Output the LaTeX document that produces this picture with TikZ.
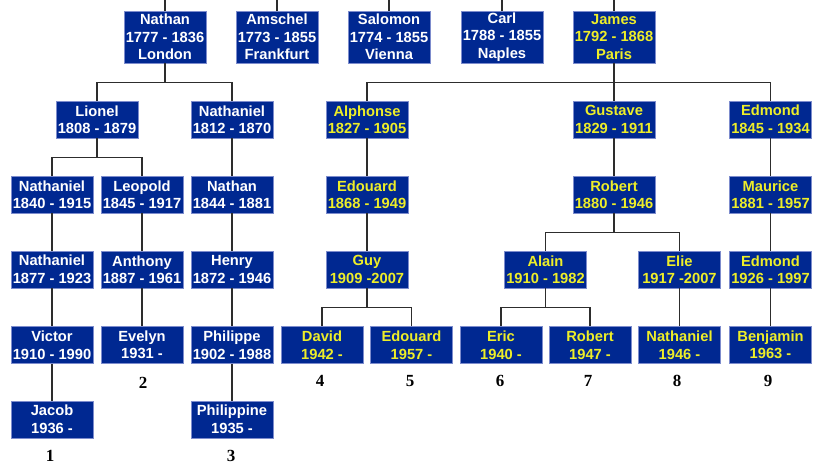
\documentclass[tikz,border=0pt]{standalone}
\usepackage{fontspec}
\setmainfont{Liberation Sans}
\newfontfamily\numserif{Liberation Serif}
\definecolor{boxblue}{RGB}{0,40,145}
\definecolor{boxrim}{RGB}{125,140,205}
\definecolor{txtyellow}{RGB}{238,238,40}
\definecolor{linegrey}{RGB}{45,45,45}
\begin{document}
\begin{tikzpicture}[x=1pt,y=-1pt,
  person/.style={rectangle,fill=boxblue,draw=boxrim,line width=0.7pt,
    minimum width=82pt,inner sep=0pt,align=center,text=white,
    font=\bfseries\fontsize{14.7}{17.5}\selectfont},
  tall/.style={person,minimum height=52pt},
  short/.style={person,minimum height=37pt},
  yel/.style={text=txtyellow},
  num/.style={font=\numserif\bfseries\fontsize{17}{17}\selectfont,text=black,inner sep=0pt},
  link/.style={draw=linegrey,line width=1.2pt},
  fork/.style={link}]
\useasboundingbox (0,0) rectangle (817,466);
% row 1
\node[tall] (Nathan) at (165,37) {Nathan\\1777 - 1836\\London};
\node[tall] (Amschel) at (277,37) {Amschel\\1773 - 1855\\Frankfurt};
\node[tall] (Salomon) at (389,37) {Salomon\\1774 - 1855\\Vienna};
\node[tall] (Carl) at (502,37) {Carl\\1788 - 1855\\Naples};
\node[tall,yel] (James) at (614,37) {James\\1792 - 1868\\Paris};
% row 2
\node[short] (Lionel) at (97,119.5) {Lionel\\1808 - 1879};
\node[short] (NathanielB) at (232,119.5) {Nathaniel\\1812 - 1870};
\node[short,yel] (Alphonse) at (367,119.5) {Alphonse\\1827 - 1905};
\node[short,yel] (Gustave) at (614,119.5) {Gustave\\1829 - 1911};
\node[short,yel] (EdmondA) at (770.5,119.5) {Edmond\\1845 - 1934};
% row 3
\node[short] (NathanielC) at (52,194.5) {Nathaniel\\1840 - 1915};
\node[short] (Leopold) at (142,194.5) {Leopold\\1845 - 1917};
\node[short] (NathanC) at (232,194.5) {Nathan\\1844 - 1881};
\node[short,yel] (EdouardC) at (367,194.5) {Edouard\\1868 - 1949};
\node[short,yel] (RobertC) at (614,194.5) {Robert\\1880 - 1946};
\node[short,yel] (Maurice) at (770.5,194.5) {Maurice\\1881 - 1957};
% row 4
\node[short] (NathanielD) at (52,269.5) {Nathaniel\\1877 - 1923};
\node[short] (Anthony) at (142,269.5) {Anthony\\1887 - 1961};
\node[short] (Henry) at (232,269.5) {Henry\\1872 - 1946};
\node[short,yel] (Guy) at (367,269.5) {Guy\\1909 -2007};
\node[short,yel] (Alain) at (545.5,269.5) {Alain\\1910 - 1982};
\node[short,yel] (Elie) at (679.5,269.5) {Elie\\1917 -2007};
\node[short,yel] (EdmondD) at (770.5,269.5) {Edmond\\1926 - 1997};
% row 5
\node[short] (Victor) at (52,345) {Victor\\1910 - 1990};
\node[short] (Evelyn) at (142,345) {Evelyn\\1931 -};
\node[short] (Philippe) at (232,345) {Philippe\\1902 - 1988};
\node[short,yel] (David) at (322,345) {David\\1942 -};
\node[short,yel] (EdouardE) at (411.5,345) {Edouard\\1957 -};
\node[short,yel] (Eric) at (501,345) {Eric\\1940 -};
\node[short,yel] (RobertE) at (590,345) {Robert\\1947 -};
\node[short,yel] (NathanielE) at (679.5,345) {Nathaniel\\1946 -};
\node[short,yel] (Benjamin) at (770.5,345) {Benjamin\\1963 -};
% row 6
\node[short] (Jacob) at (52,419.5) {Jacob\\1936 -};
\node[short] (Philippine) at (232,419.5) {Philippine\\1935 -};
% numbers
\node[num] (n1) at (50,456) {1};
\node[num] (n2) at (143,383) {2};
\node[num] (n3) at (231,456) {3};
\node[num] (n4) at (320,381) {4};
\node[num] (n5) at (410,381) {5};
\node[num] (n6) at (500,381) {6};
\node[num] (n7) at (588,381) {7};
\node[num] (n8) at (677,381) {8};
\node[num] (n9) at (768,381) {9};
% lines from the top edge
\coordinate (tNathan) at (165,0);
\coordinate (tAmschel) at (277,0);
\coordinate (tSalomon) at (389,0);
\coordinate (tCarl) at (502,0);
\coordinate (tJames) at (614,0);
\draw[link] (tNathan) -- (Nathan.north);
\draw[link] (tAmschel) -- (Amschel.north);
\draw[link] (tSalomon) -- (Salomon.north);
\draw[link] (tCarl) -- (Carl.north);
\draw[link] (tJames) -- (James.north);
% forks
\draw[fork] (Nathan.south) -- ++(0,19) -| (Lionel.north);
\draw[fork] (Nathan.south) -- ++(0,19) -| (NathanielB.north);
\draw[fork] (James.south) -- ++(0,19) -| (Alphonse.north);
\draw[fork] (James.south) -- ++(0,19) -| (EdmondA.north);
\draw[link] (James.south) -- (Gustave.north);
\draw[fork] (Lionel.south) -- ++(0,19) -| (NathanielC.north);
\draw[fork] (Lionel.south) -- ++(0,19) -| (Leopold.north);
\draw[fork] (RobertC.south) -- ++(0,19) -| (Alain.north);
\draw[fork] (RobertC.south) -- ++(0,19) -| (Elie.north);
\draw[fork] (Guy.south) -- ++(0,19.5) -| (David.north);
\draw[fork] (Guy.south) -- ++(0,19.5) -| (EdouardE.north);
\draw[fork] (Alain.south) -- ++(0,19.5) -| (Eric.north);
\draw[fork] (Alain.south) -- ++(0,19.5) -| (RobertE.north);
% single lines
\draw[link] (NathanielB.south) -- (NathanC.north);
\draw[link] (NathanC.south) -- (Henry.north);
\draw[link] (Henry.south) -- (Philippe.north);
\draw[link] (Philippe.south) -- (Philippine.north);
\draw[link] (NathanielC.south) -- (NathanielD.north);
\draw[link] (NathanielD.south) -- (Victor.north);
\draw[link] (Victor.south) -- (Jacob.north);
\draw[link] (Leopold.south) -- (Anthony.north);
\draw[link] (Anthony.south) -- (Evelyn.north);
\draw[link] (Alphonse.south) -- (EdouardC.north);
\draw[link] (EdouardC.south) -- (Guy.north);
\draw[link] (Gustave.south) -- (RobertC.north);
\draw[link] (EdmondA.south) -- (Maurice.north);
\draw[link] (Maurice.south) -- (EdmondD.north);
\draw[link] (EdmondD.south) -- (Benjamin.north);
\draw[link] (Elie.south) -- (NathanielE.north);
\end{tikzpicture}
\end{document}
